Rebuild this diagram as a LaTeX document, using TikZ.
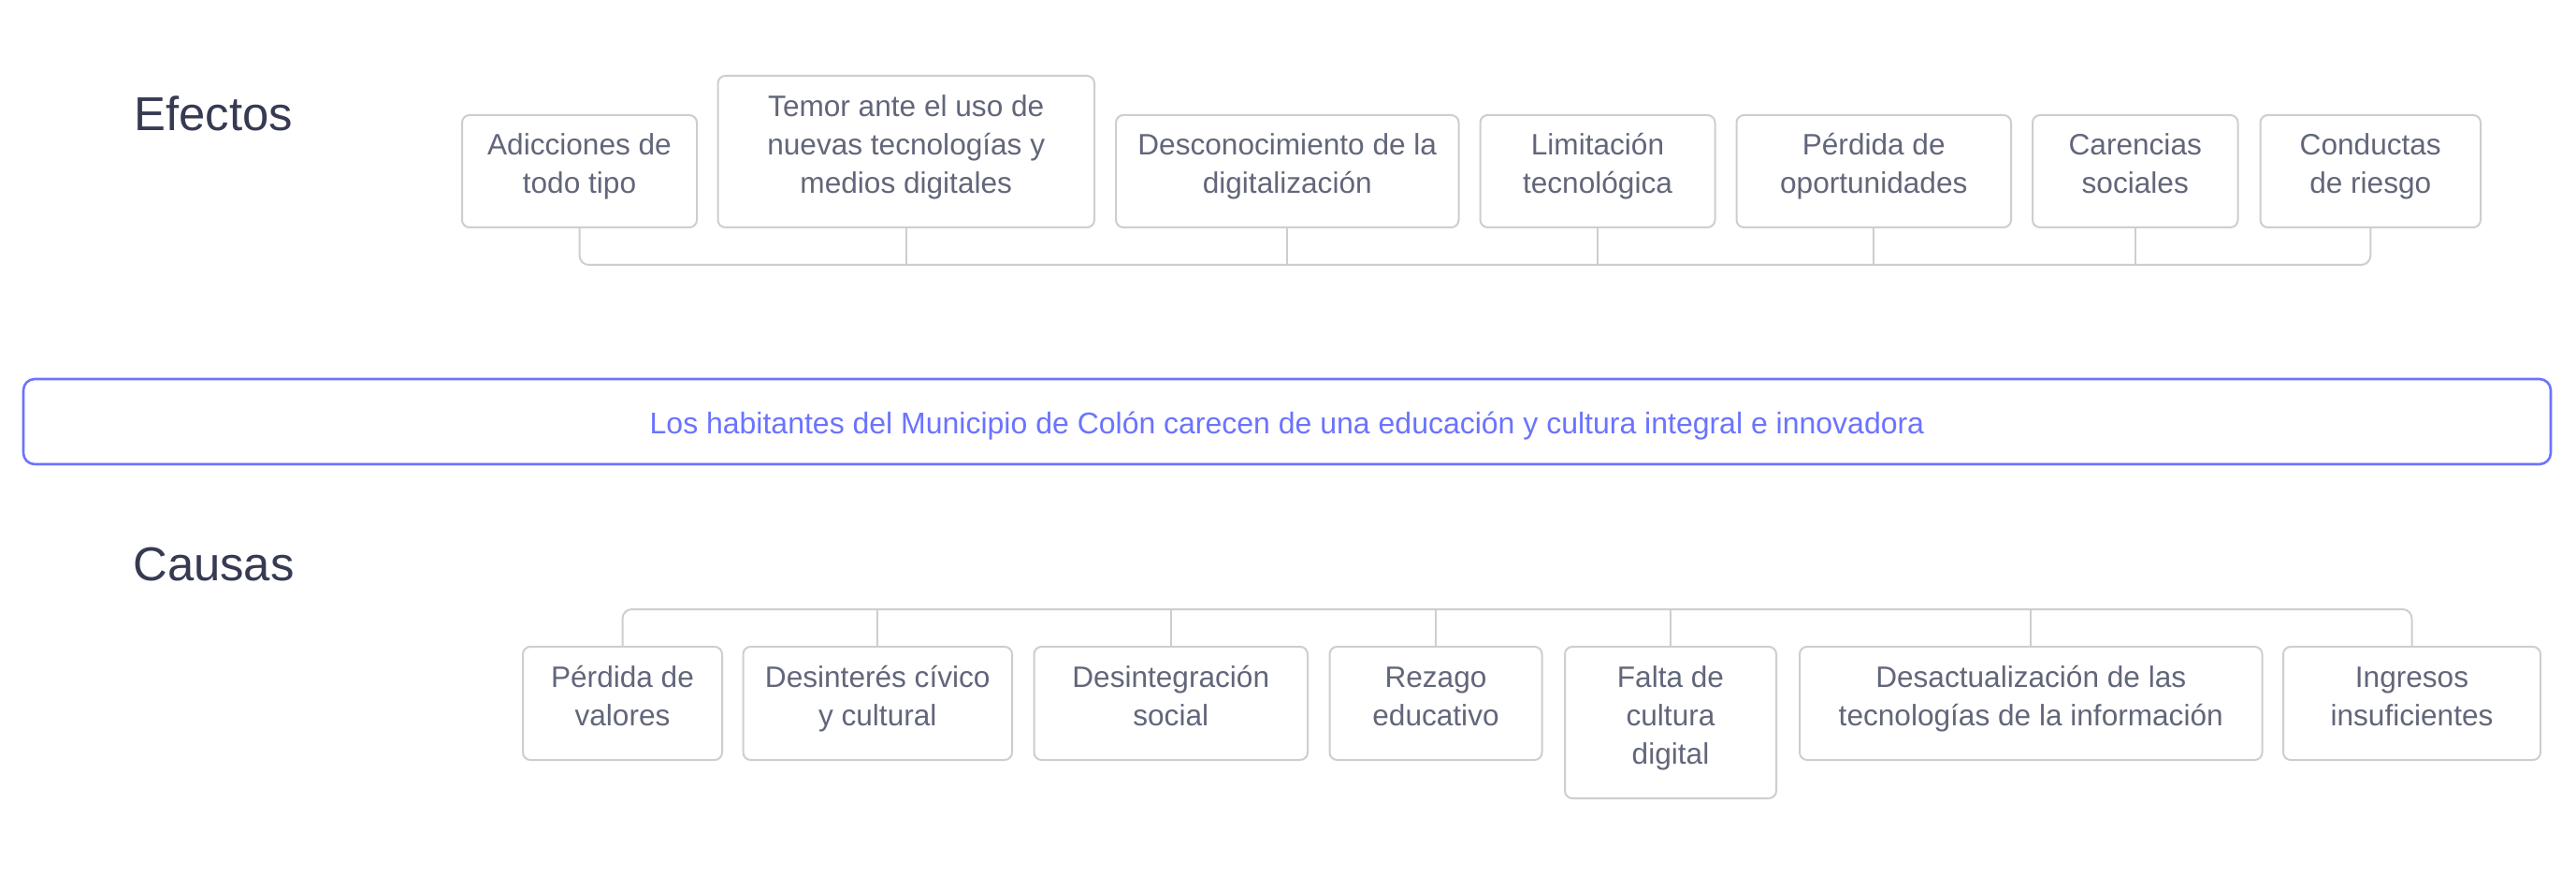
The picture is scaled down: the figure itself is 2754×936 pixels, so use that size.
\documentclass[tikz,border=0pt]{standalone}
\usepackage{fontspec}
\setmainfont{Liberation Sans}
\definecolor{titlec}{RGB}{54,58,82}
\definecolor{boxtext}{RGB}{98,102,122}
\definecolor{boxline}{RGB}{205,206,210}
\definecolor{mainblue}{RGB}{107,115,255}
\newcommand\cs{\rule[-8.5pt]{0pt}{20.5pt}}
\newcommand\ms{\rule[-4pt]{0pt}{20.5pt}}
\tikzset{
  cell/.style={draw=boxline, line width=1pt, rounded corners=4pt, fill=white,
    text=boxtext, align=center, inner sep=0pt,
    font=\fontsize{15.8pt}{20.5pt}\selectfont},
  conn/.style={draw=boxline, line width=1pt},
  heading/.style={text=titlec, inner sep=0pt, anchor=base west,
    font=\fontsize{25.4pt}{30pt}\selectfont},
  mainbox/.style={draw=mainblue, line width=1.3pt, rounded corners=6pt,
    text=mainblue, inner sep=0pt, font=\fontsize{16pt}{20.5pt}\selectfont}
}
\begin{document}
\begin{tikzpicture}[x=0.5pt,y=-0.5pt]
\useasboundingbox[fill=white] (0,0) rectangle (2754,936);

% headings
\node[heading] (efectos) at (143,140) {Efectos};
\node[heading] (causas) at (142,620) {Causas};

% effects
\node[cell, minimum width=125.5pt, minimum height=60pt] (t1) at (619.5,183) {\cs Adicciones de\\todo tipo\cs};
\node[cell, minimum width=201.25pt, minimum height=81pt] (t2) at (968.75,162) {\cs Temor ante el uso de\\nuevas tecnologías y\\medios digitales\cs};
\node[cell, minimum width=183.25pt, minimum height=60pt] (t3) at (1376.25,183) {\cs Desconocimiento de la\\digitalización\cs};
\node[cell, minimum width=125.5pt, minimum height=60pt] (t4) at (1708,183) {\cs Limitación\\tecnológica\cs};
\node[cell, minimum width=146.75pt, minimum height=60pt] (t5) at (2003.25,183) {\cs Pérdida de\\oportunidades\cs};
\node[cell, minimum width=109.75pt, minimum height=60pt] (t6) at (2282.75,183) {\cs Carencias\\sociales\cs};
\node[cell, minimum width=117.75pt, minimum height=60pt] (t7) at (2534.25,183) {\cs Conductas\\de riesgo\cs};

\coordinate (tbus) at (0,283);
\draw[conn, rounded corners=5pt] (t1.south) |- (t7.south |- tbus) -- (t7.south);
\foreach \n in {t2,t3,t4,t5,t6} \draw[conn] (\n.south) -- (\n.south |- tbus);

% central problem
\node[mainbox, minimum width=1351pt, minimum height=45.5pt] (problem) at (1376,450.5)
  {\ms Los habitantes del Municipio de Colón carecen de una educación y cultura integral e innovadora};

% causes
\node[cell, minimum width=106.5pt, minimum height=60.5pt] (b1) at (665.5,751.5) {\cs Pérdida de\\valores\cs};
\node[cell, minimum width=143.75pt, minimum height=60.5pt] (b2) at (938.25,751.5) {\cs Desinterés cívico\\y cultural\cs};
\node[cell, minimum width=146.25pt, minimum height=60.5pt] (b3) at (1251.75,751.5) {\cs Desintegración\\social\cs};
\node[cell, minimum width=113.5pt, minimum height=60.5pt] (b4) at (1535,751.5) {\cs Rezago\\educativo\cs};
\node[cell, minimum width=113pt, minimum height=81pt] (b5) at (1786,772) {\cs Falta de\\cultura\\digital\cs};
\node[cell, minimum width=247.25pt, minimum height=60.5pt] (b6) at (2171.25,751.5) {\cs Desactualización de las\\tecnologías de la información\cs};
\node[cell, minimum width=137.5pt, minimum height=60.5pt] (b7) at (2578.5,751.5) {\cs Ingresos\\insuficientes\cs};

\coordinate (bbus) at (0,651);
\draw[conn, rounded corners=5pt] (b1.north) |- (b7.north |- bbus) -- (b7.north);
\foreach \n in {b2,b3,b4,b5,b6} \draw[conn] (\n.north) -- (\n.north |- bbus);
\end{tikzpicture}
\end{document}
